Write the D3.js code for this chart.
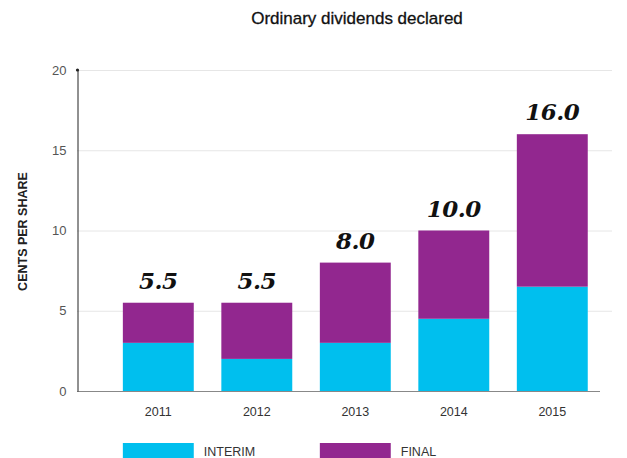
<!DOCTYPE html>
<html>
<head>
<meta charset="utf-8">
<script src="https://cdn.jsdelivr.net/npm/d3@7"></script>
<style>
  html, body { margin: 0; padding: 0; background: #fff; }
  svg { display: block; }
</style>
</head>
<body>
<svg id="chart" width="627" height="458"></svg>
<script>
// Ordinary dividends declared, cents per share
const years = ["2011", "2012", "2013", "2014", "2015"];
const interim = [3.0, 2.0, 3.0, 4.5, 6.5];
const final = [2.5, 3.5, 5.0, 5.5, 9.5];
const totals = [5.5, 5.5, 8.0, 10.0, 16.0];
const yTicks = [0, 5, 10, 15, 20];
const seriesNames = ["INTERIM", "FINAL"];
const colors = ["#00bfee", "#92278f"];

const svg = d3.select("#chart");
const plotLeft = 77, plotRight = 612, plotTop = 70, plotBottom = 391;

const x = d3.scaleBand().domain(years).range([113, 597.6]).paddingInner(0.28).paddingOuter(0.1);
const y = d3.scaleLinear().domain([0, 20]).range([plotBottom, plotTop]);

// gridlines
svg.append("g").selectAll("line").data(yTicks.filter(d => d > 0)).join("line")
  .attr("x1", plotLeft).attr("x2", plotRight)
  .attr("y1", d => y(d) + 0.5).attr("y2", d => y(d) + 0.5)
  .attr("stroke", "#e6e6e6").attr("stroke-width", 1);

// stacked bars
const rows = years.map((yr, i) => ({ year: yr, INTERIM: interim[i], FINAL: final[i] }));
const stack = d3.stack().keys(seriesNames)(rows);
svg.append("g").selectAll("g").data(stack).join("g")
  .attr("fill", (d, i) => colors[i])
  .selectAll("rect").data(d => d).join("rect")
  .attr("x", d => x(d.data.year))
  .attr("width", x.bandwidth())
  .attr("y", d => y(d[1]))
  .attr("height", d => y(d[0]) - y(d[1]));

// total labels
svg.append("g").selectAll("text").data(years).join("text")
  .attr("x", d => x(d) + x.bandwidth() / 2)
  .attr("y", (d, i) => y(totals[i]) - 14)
  .attr("text-anchor", "middle")
  .attr("font-family", "'DejaVu Serif', serif")
  .attr("font-weight", "bold")
  .attr("font-style", "italic")
  .attr("font-size", 23)
  .attr("letter-spacing", -0.5)
  .attr("fill", "#111")
  .text((d, i) => totals[i].toFixed(1));

// x axis baseline
svg.append("line").attr("x1", plotLeft).attr("x2", 600)
  .attr("y1", plotBottom + 0.5).attr("y2", plotBottom + 0.5)
  .attr("stroke", "#888").attr("stroke-width", 1);

// y axis
const yAxis = d3.axisLeft(y).tickValues(yTicks).tickSize(0).tickPadding(11);
const gy = svg.append("g").attr("transform", `translate(${plotLeft + 0.5},0)`).call(yAxis);
gy.select(".domain").attr("stroke", "#222").attr("stroke-width", 1);
gy.selectAll("text").attr("font-family", "'Liberation Sans', Arial, sans-serif")
  .attr("font-size", 13).attr("fill", "#555");
svg.append("circle").attr("cx", plotLeft + 0.5).attr("cy", y(20)).attr("r", 1.6).attr("fill", "#222");

// x axis labels
const xAxis = d3.axisBottom(x).tickSize(0).tickPadding(16);
const gx = svg.append("g").attr("transform", `translate(0,${plotBottom})`).call(xAxis);
gx.select(".domain").remove();
gx.selectAll("text").attr("font-family", "'Liberation Sans', Arial, sans-serif")
  .attr("font-size", 12.5).attr("fill", "#333");

// axis title
svg.append("text")
  .attr("transform", `translate(27,${(plotTop + plotBottom) / 2 + 1}) rotate(-90)`)
  .attr("text-anchor", "middle")
  .attr("font-family", "'Liberation Sans', Arial, sans-serif")
  .attr("font-weight", "bold").attr("font-size", 12.5).attr("fill", "#222")
  .text("CENTS PER SHARE");

// title
svg.append("text").attr("x", 357).attr("y", 24)
  .attr("text-anchor", "middle")
  .attr("font-family", "'Liberation Sans', Arial, sans-serif")
  .attr("font-size", 17).attr("fill", "#111")
  .attr("stroke", "#111").attr("stroke-width", 0.3)
  .text("Ordinary dividends declared");

// legend
const legend = svg.append("g").selectAll("g").data(seriesNames).join("g")
  .attr("transform", (d, i) => `translate(${x(years[i * 2])},443)`);
legend.append("rect").attr("width", x.bandwidth()).attr("height", 16)
  .attr("fill", (d, i) => colors[i]);
legend.append("text").attr("x", x.bandwidth() + 10).attr("y", 13)
  .attr("font-family", "'Liberation Sans', Arial, sans-serif")
  .attr("font-size", 12.5).attr("fill", "#333")
  .text(d => d);
</script>
</body>
</html>
